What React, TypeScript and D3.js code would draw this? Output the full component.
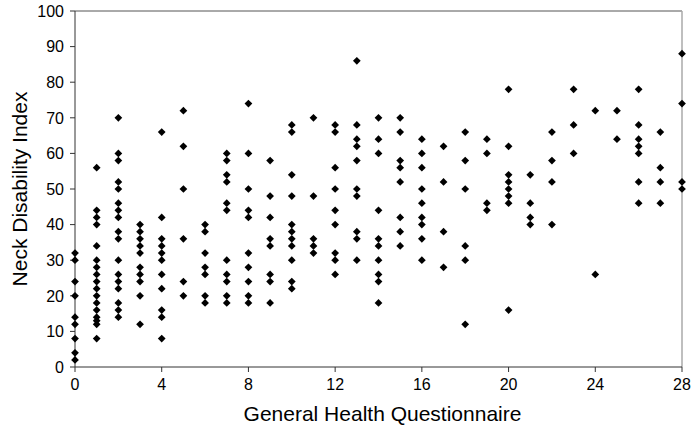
import React from "react";
import * as d3 from "d3";

const ghq = [0, 1, 2, 3, 4, 5, 6, 7, 8, 9, 10, 11, 12, 13, 14, 15, 16, 17, 18, 19, 20, 21, 22, 23, 24, 25, 26, 27, 28];
const ndi: number[][] = [
  [32, 30, 24, 20, 14, 12, 8, 4, 2],
  [56, 44, 42, 40, 34, 30, 28, 26, 24, 22, 20, 18, 16, 14, 13, 12, 8],
  [70, 60, 58, 52, 50, 46, 44, 42, 38, 36, 30, 26, 24, 22, 18, 16, 14],
  [40, 38, 36, 34, 32, 28, 26, 24, 20, 12],
  [66, 42, 36, 34, 32, 30, 26, 22, 16, 14, 8],
  [72, 62, 50, 36, 24, 20],
  [40, 38, 32, 28, 26, 20, 18],
  [60, 58, 54, 52, 46, 44, 30, 26, 24, 20, 18],
  [74, 60, 50, 44, 42, 32, 28, 24, 20, 18],
  [58, 48, 42, 36, 34, 26, 24, 18],
  [68, 66, 54, 48, 40, 38, 36, 34, 30, 24, 22],
  [70, 48, 36, 34, 32],
  [68, 66, 56, 50, 44, 40, 32, 30, 26],
  [86, 68, 64, 62, 58, 50, 48, 38, 36, 30],
  [70, 64, 60, 44, 36, 34, 30, 26, 24, 18],
  [70, 66, 58, 56, 52, 42, 38, 34],
  [64, 60, 56, 50, 46, 42, 40, 36, 30],
  [62, 52, 38, 28],
  [66, 58, 50, 34, 30, 12],
  [64, 60, 46, 44],
  [78, 62, 54, 52, 50, 48, 46, 16],
  [54, 46, 42, 40],
  [66, 58, 52, 40],
  [78, 68, 60],
  [72, 26],
  [72, 64],
  [78, 68, 64, 62, 60, 52, 46],
  [66, 56, 52, 46],
  [88, 74, 52, 50],
];
const xTicks = [0, 4, 8, 12, 16, 20, 24, 28];
const yTicks = [0, 10, 20, 30, 40, 50, 60, 70, 80, 90, 100];
const xTitle = "General Health Questionnaire";
const yTitle = "Neck Disability Index";

export default function App() {
  const W = 693, H = 439;
  const left = 75, right = 682, top = 11, bottom = 367;
  const x = d3.scaleLinear().domain([0, 28]).range([left, right]);
  const y = d3.scaleLinear().domain([0, 100]).range([bottom, top]);
  const sym = d3.symbol().type(d3.symbolSquare).size(30)() as string;
  const pts: { gx: number; v: number }[] = [];
  ghq.forEach((g, i) => ndi[i].forEach((v) => pts.push({ gx: g, v })));
  const font = "'Liberation Sans', Arial, sans-serif";
  return (
    <svg width={W} height={H} style={{ position: "absolute", left: 0, top: 0 }} fontFamily={font}>
      <rect width={W} height={H} fill="#fff" />
      <line x1={left} x2={right} y1={top} y2={top} stroke="#555" strokeWidth={1} />
      <line x1={right} x2={right} y1={top} y2={bottom} stroke="#aaa" strokeWidth={1.5} />
      <line x1={left} x2={left} y1={top} y2={bottom} stroke="#333" strokeWidth={1} />
      <line x1={left} x2={right} y1={bottom} y2={bottom} stroke="#333" strokeWidth={1} />
      {yTicks.map((t) => (
        <g key={"y" + t}>
          <line x1={left - 5} x2={left} y1={y(t)} y2={y(t)} stroke="#333" />
          <text x={left - 11} y={y(t)} dy="0.36em" textAnchor="end" fontSize={16} fill="#000">{t}</text>
        </g>
      ))}
      {xTicks.map((t) => (
        <g key={"x" + t}>
          <line x1={x(t)} x2={x(t)} y1={bottom} y2={bottom + 5} stroke="#333" />
          <text x={x(t)} y={bottom + 23} textAnchor="middle" fontSize={16} fill="#000">{t}</text>
        </g>
      ))}
      {pts.map((p, i) => (
        <path key={i} d={sym} transform={`translate(${x(p.gx)},${y(p.v)}) rotate(45)`} fill="#000" />
      ))}
      <text x={(left + right) / 2 + 4} y={421} textAnchor="middle" fontSize={21} fill="#000">{xTitle}</text>
      <text transform={`translate(27,${(top + bottom) / 2}) rotate(-90)`} textAnchor="middle" fontSize={21} fill="#000">{yTitle}</text>
    </svg>
  );
}
